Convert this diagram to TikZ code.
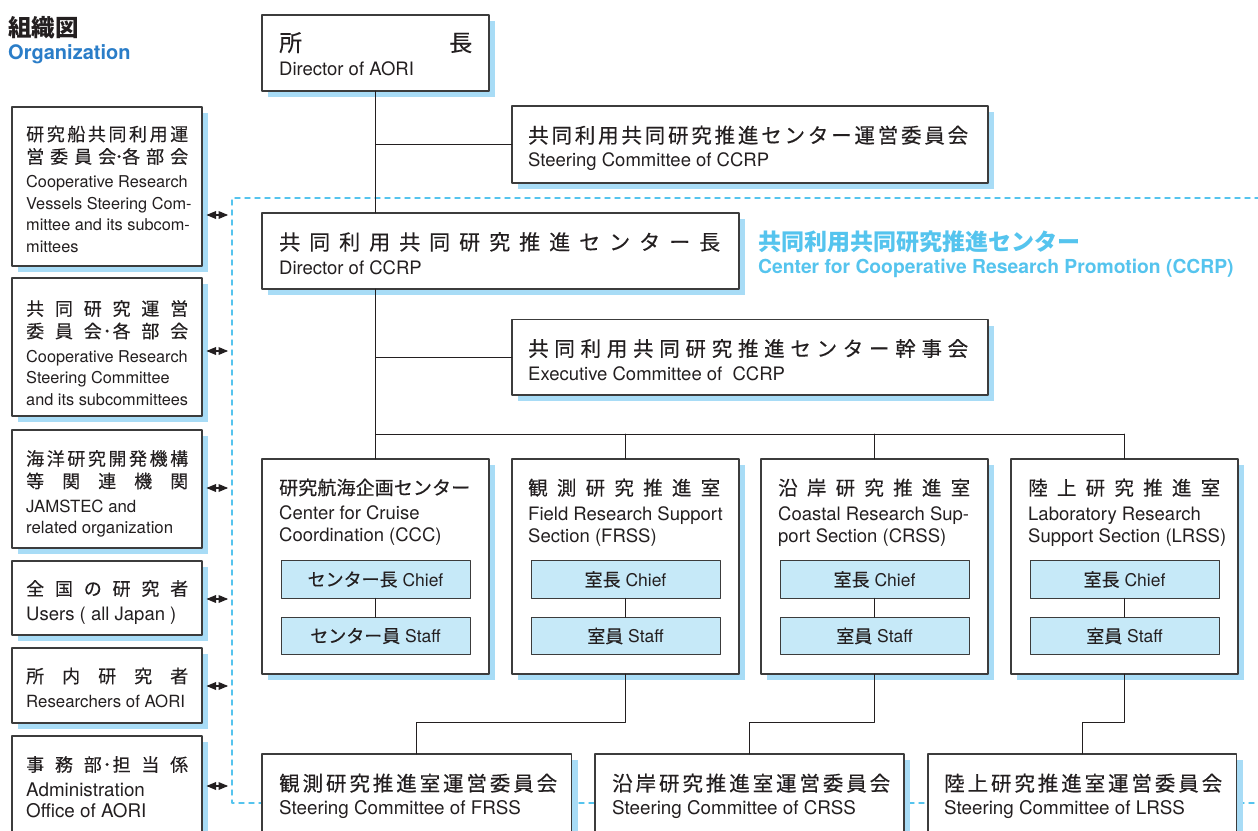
\documentclass[tikz,border=0pt]{standalone}
\usepackage{fontspec}
\setmainfont{TeX Gyre Heros}
\newfontfamily\jp{Noto Sans CJK JP}[FakeBold=0.3,BoldFeatures={FakeBold=0}]
\usetikzlibrary{arrows}
\usetikzlibrary{shadows}
\definecolor{ink}{HTML}{231F20}
\definecolor{edge}{HTML}{3C3C3C}
\definecolor{shade}{HTML}{A8DCF6}
\definecolor{chieffill}{HTML}{C6E9F8}
\definecolor{ccrpblue}{HTML}{55C4EE}
\definecolor{orgblue}{HTML}{2A7DC8}
\makeatletter
\newcommand\jpspread[2]{\hbox to #1{\@tfor\jp@ch:=#2\do{\jp@ch\hfil}\unskip}}
\makeatother
\newcommand\jpdot{\hskip 0pt plus -.5fil\makebox[0pt]{･}\hskip 0pt plus -.5fil}
\newcommand\jpsize[1]{\jp\fontsize{#1}{#1}\selectfont}

\begin{document}
\begin{tikzpicture}[line cap=round,line join=round,>=triangle 45,x=1pt,y=-1pt,
  box/.style={draw=edge,line width=1.1pt,fill=white,anchor=north west,inner sep=0pt,outer sep=0pt,
    drop shadow={shadow xshift=6pt,shadow yshift=-6pt,fill=shade,opacity=1}},
  txt/.style={anchor=north west,inner sep=0pt,align=left,text=ink},
  role/.style={draw=edge,line width=1pt,fill=chieffill,minimum width=189pt,minimum height=37.5pt,
    inner sep=0pt,outer sep=0pt,text=ink,font=\fontsize{17.5}{20}\selectfont},
  conn/.style={draw=ink,line width=0.9pt},
  link/.style={<->,draw=ink,line width=1.2pt,shorten <=4.5pt}]
\path[use as bounding box,fill=white] (0,0) rectangle (1258,830);
\clip (0,0) rectangle (1258,830);

% CCRP area
\draw [ccrpblue,line width=1.4pt,dash pattern=on 5pt off 5pt] (1270,198) -- (232,198) -- (232,803) -- (1270,803);
\node [txt,text=ccrpblue,font=\bfseries\fontsize{19.3}{22.3}\selectfont] (ccrp) at (758,231)
  {{\jpsize{23}共同利用共同研究推進センター}\\Center for Cooperative Research Promotion (CCRP)};

\node [txt,font=\bfseries\fontsize{20}{23.6}\selectfont] (title) at (8,16)
  {{\jpsize{23.5}組織図}\\{\color{orgblue}Organization}};

% top of the chart
\node [box,minimum width=227pt,minimum height=76pt] (dir) at (262,15) {};
\node [txt,font=\fontsize{18.5}{24.7}\selectfont] (dir-t) at ([xshift=17pt,yshift=-17pt]dir.north west)
  {{\jpsize{23}\jpspread{193pt}{所長}}\\Director of AORI};
\node [box,minimum width=476pt,minimum height=77pt] (scc) at (512,106) {};
\node [txt,font=\fontsize{18.5}{23.8}\selectfont] (scc-t) at ([xshift=16pt,yshift=-19.5pt]scc.north west)
  {{\jpsize{20.5}\jpspread{440pt}{共同利用共同研究推進センター運営委員会}}\\Steering Committee of CCRP};
\node [box,minimum width=477pt,minimum height=76pt] (dccrp) at (262,213) {};
\node [txt,font=\fontsize{18.5}{24.7}\selectfont] (dccrp-t) at ([xshift=17pt,yshift=-19pt]dccrp.north west)
  {{\jpsize{21}\jpspread{441pt}{共同利用共同研究推進センター長}}\\Director of CCRP};
\node [box,minimum width=476pt,minimum height=75.5pt] (exec) at (512,319.5) {};
\node [txt,font=\fontsize{18.5}{24.5}\selectfont] (exec-t) at ([xshift=16pt,yshift=-19.3pt]exec.north west)
  {{\jpsize{20.5}\jpspread{440pt}{共同利用共同研究推進センター幹事会}}\\Executive Committee of~~CCRP};

% sections
\foreach \n/\x in {ccc/262,frss/512,crss/761,lrss/1011}
  \node [box,minimum width=227pt,minimum height=215pt] (\n) at (\x,459) {};
\node [txt,font=\fontsize{18.5}{22}\selectfont] (ccc-t) at ([xshift=17pt,yshift=-19.5pt]ccc.north west)
  {{\jpsize{19}\jpspread{191pt}{研究航海企画センター}}\\[3.2pt]Center for Cruise\\Coordination (CCC)};
\node [txt,font=\fontsize{18.5}{22}\selectfont] (frss-t) at ([xshift=16pt,yshift=-19.5pt]frss.north west)
  {{\jpsize{19.5}\jpspread{192pt}{観測研究推進室}}\\[3.2pt]Field Research Support\\Section (FRSS)};
\node [txt,font=\fontsize{18.5}{22}\selectfont] (crss-t) at ([xshift=17pt,yshift=-19.5pt]crss.north west)
  {{\jpsize{19.5}\jpspread{192pt}{沿岸研究推進室}}\\[3.2pt]Coastal Research Sup-\\port Section (CRSS)};
\node [txt,font=\fontsize{18.5}{22}\selectfont] (lrss-t) at ([xshift=17pt,yshift=-19.5pt]lrss.north west)
  {{\jpsize{19.5}\jpspread{192pt}{陸上研究推進室}}\\[3.2pt]Laboratory Research\\Support Section (LRSS)};
\foreach \n/\c/\m in {ccc/センター長/センター員,frss/室長/室員,crss/室長/室員,lrss/室長/室員} {
  \node [role] (\n-chief) at ([yshift=-120.5pt]\n.north) {{\jpsize{18}\c}~Chief};
  \node [role] (\n-staff) at ([yshift=-177pt]\n.north) {{\jpsize{18}\m}~Staff};
}

% section committees
\foreach \n/\x/\w in {fsc/262/309.5,csc/595/309,lsc/928/308.5}
  \node [box,minimum width=\w pt,minimum height=120pt] (\n) at (\x,754) {};
\node [txt,font=\fontsize{18.8}{24}\selectfont] (fsc-t) at ([xshift=17pt,yshift=-19.5pt]fsc.north west)
  {{\jpsize{20.5}\jpspread{278pt}{観測研究推進室運営委員会}}\\Steering Committee of FRSS};
\node [txt,font=\fontsize{18.8}{24}\selectfont] (csc-t) at ([xshift=17pt,yshift=-19.5pt]csc.north west)
  {{\jpsize{20.5}\jpspread{278pt}{沿岸研究推進室運営委員会}}\\Steering Committee of CRSS};
\node [txt,font=\fontsize{18.8}{24}\selectfont] (lsc-t) at ([xshift=16pt,yshift=-19.5pt]lsc.north west)
  {{\jpsize{20.5}\jpspread{278pt}{陸上研究推進室運営委員会}}\\Steering Committee of LRSS};

% partners on the left
\foreach \n/\y/\h in {lb1/107/159,lb2/278/138,lb3/430/118,lb4/561/74,lb5/648/75,lb6/736/120}
  \node [box,minimum width=190pt,minimum height=\h pt] (\n) at (12,\y) {};
\node [txt,font=\fontsize{16.3}{21.5}\selectfont] (lb1-t) at ([xshift=14pt,yshift=-18.5pt]lb1.north west)
  {{\jpsize{18}\jpspread{162pt}{研究船共同利用運}}\\[1pt]{\jpsize{18}\jpspread{162pt}{営委員会{\jpdot}各部会}}\\[3pt]
   Cooperative Research\\Vessels Steering Com-\\mittee and its subcom-\\mittees};
\node [txt,font=\fontsize{16.3}{21.5}\selectfont] (lb2-t) at ([xshift=14pt,yshift=-22pt]lb2.north west)
  {{\jpsize{18}\jpspread{162pt}{共同研究運営}}\\[1pt]{\jpsize{18}\jpspread{162pt}{委員会{\jpdot}各部会}}\\[3pt]
   Cooperative Research\\Steering Committee\\and its subcommittees};
\node [txt,font=\fontsize{16.8}{21.5}\selectfont] (lb3-t) at ([xshift=14pt,yshift=-20pt]lb3.north west)
  {{\jpsize{18}\jpspread{162pt}{海洋研究開発機構}}\\[1pt]{\jpsize{18}\jpspread{162pt}{等関連機関}}\\[3pt]
   JAMSTEC and\\related organization};
\node [txt,font=\fontsize{18.5}{21.5}\selectfont] (lb4-t) at ([xshift=14pt,yshift=-19pt]lb4.north west)
  {{\jpsize{18}\jpspread{162pt}{全国の研究者}}\\[4pt]Users ( all Japan )};
\node [txt,font=\fontsize{16.8}{21.5}\selectfont] (lb5-t) at ([xshift=14pt,yshift=-19.5pt]lb5.north west)
  {{\jpsize{18}\jpspread{162pt}{所内研究者}}\\[3pt]Researchers of AORI};
\node [txt,font=\fontsize{18.8}{21}\selectfont] (lb6-t) at ([xshift=14pt,yshift=-20pt]lb6.north west)
  {{\jpsize{18}\jpspread{162pt}{事務部{\jpdot}担当係}}\\[4pt]Administration\\Office of AORI};

% lines
\coordinate (bus) at (375.5,434);
\draw [conn] (dir.south) -- (dir.south |- dccrp.north);
\draw [conn] (dir.south |- scc.west) -- (scc.west);
\draw [conn] (dir.south |- dccrp.south) -- (dir.south |- bus);
\draw [conn] (dir.south |- exec.west) -- (exec.west);
\draw [conn] (bus -| ccc.north) -- (bus -| lrss.north);
\foreach \n in {ccc,frss,crss,lrss} {
  \draw [conn] (bus -| \n.north) -- (\n.north);
  \draw [conn] (\n-chief.south) -- (\n-staff.north);
}
\foreach \n/\m in {frss/fsc,crss/csc,lrss/lsc}
  \draw [conn] (\n.south) -- ++(0,48) -| (\m.north);
\foreach \n/\y in {lb1/215,lb2/351,lb3/488,lb4/599,lb5/686,lb6/786} {
  \coordinate (\n-end) at (228,\y);
  \draw [link] (\n.east |- \n-end) -- (\n-end);
}
\end{tikzpicture}
\end{document}
